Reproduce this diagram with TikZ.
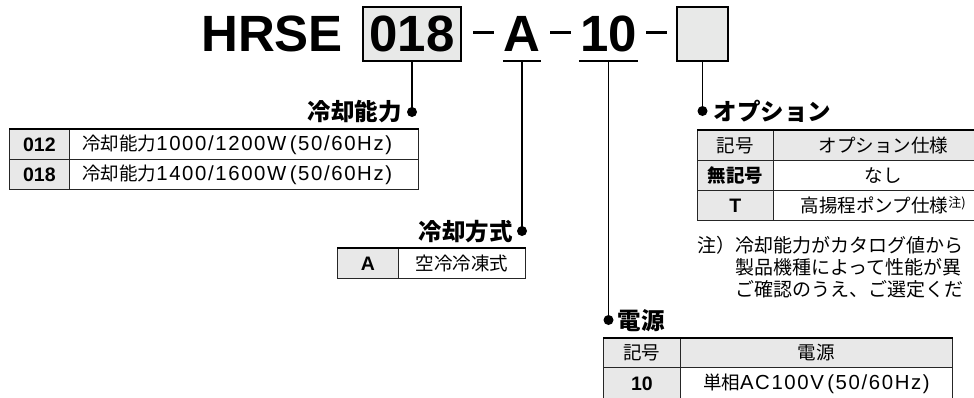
\documentclass[tikz,border=0pt]{standalone}
\usepackage{fontspec}
\setmainfont{Liberation Sans}
\newfontfamily\jpfont{Noto Sans CJK JP}
\newfontfamily\latfont[Scale=1.1,LetterSpace=8]{Liberation Sans}
\usepackage{tikz}
\usetikzlibrary{calc}
\definecolor{cellgray}{HTML}{E8E8E8}
\definecolor{boxgray}{HTML}{E8E9E8}
\newcommand{\lat}[1]{{\latfont #1}}
\newcommand{\chu}{\raisebox{5pt}{\fontsize{13}{13}\selectfont 注)}}

\begin{document}
\begin{tikzpicture}[x=1pt,y=-1pt,
	title/.style={font=\fontsize{51}{51}\selectfont\bfseries, inner sep=0pt, text height=37pt, text depth=3pt},
	codebox/.style={title, draw, line width=1.6pt, fill=boxgray, minimum height=54pt},
	codeul/.style={title, text depth=10pt},
	dashbar/.style={fill, inner sep=0pt, minimum width=21pt, minimum height=3pt},
	stem/.style={line width=1.5pt},
	caption/.style={font=\jpfont\fontsize{23.5}{23.5}\selectfont\bfseries, inner sep=0pt},
	cell/.style={draw=black!85, line width=0.7pt, inner sep=0pt, anchor=north west},
	keycell/.style={cell, fill=cellgray, font=\fontsize{19.5}{19.5}\selectfont\bfseries},
	jpkey/.style={cell, fill=cellgray, font=\jpfont\fontsize{18.5}{18.5}\selectfont\bfseries},
	headcell/.style={cell, fill=cellgray, font=\jpfont\fontsize{18.5}{18.5}\selectfont},
	txtcell/.style={cell, fill=white, font=\jpfont\fontsize{18.5}{18.5}\selectfont},
	topline/.style={line width=1.6pt},
	note/.style={font=\jpfont\fontsize{19}{19}\selectfont, inner sep=0pt, anchor=west}]
	
	\useasboundingbox (0,0) rectangle (974,397);
	\fill[white] (0,0) rectangle (974,397);
	\clip (0,0) rectangle (974,397);
	
	% model code
	\node[title, anchor=base west] (hrse) at (201,51) {HRSE};
	\node[codebox, anchor=base, minimum width=98pt] (c018) at (412,51) {018};
	\node[dashbar] (d1) at (483,32) {};
	\node[codeul, anchor=base, minimum width=38pt] (ca) at (522,51) {A};
	\node[dashbar] (d2) at (560,32) {};
	\node[codeul, anchor=base, minimum width=59pt] (c10) at (608.5,51) {10};
	\node[dashbar] (d3) at (656,32) {};
	\node[codebox, minimum width=51pt] (copt) at (702.5,34) {};
	\draw[stem] (ca.south west) -- (ca.south east);
	\draw[stem] (c10.south west) -- (c10.south east);
	
	% leader lines
	\coordinate (p1) at (412,112);
	\coordinate (p2) at (522,231);
	\coordinate (p3) at (608.5,320);
	\coordinate (p4) at (702.5,111);
	\draw[stem] (c018.south) -- (p1);
	\draw[stem] (ca.south) -- (p2);
	\draw[stem] (c10.south) -- (p3);
	\draw[stem] (copt.south) -- (p4);
	\foreach \p in {p1,p2,p3,p4} \fill (\p) circle[radius=5pt];
	
	\node[caption, anchor=east] (cap1) at ($(p1)+(-10,0)$) {冷却能力};
	\node[caption, anchor=east] (cap2) at ($(p2)+(-9,1)$) {冷却方式};
	\node[caption, anchor=west] (cap3) at ($(p3)+(9,1)$) {電源};
	\node[caption, anchor=west] (cap4) at ($(p4)+(11,0)$) {オプション};
	
	% 冷却能力
	\node[keycell, minimum width=60pt, minimum height=30pt] (k012) at (9,129) {012};
	\node[txtcell, minimum width=349pt, minimum height=30pt, text width=323pt, inner xsep=13pt, align=left] (t012) at (69,129) {冷却能力\lat{1000/1200W\,(50/60Hz)}};
	\node[keycell, minimum width=60pt, minimum height=30pt] (k018) at (9,159) {018};
	\node[txtcell, minimum width=349pt, minimum height=30pt, text width=323pt, inner xsep=13pt, align=left] (t018) at (69,159) {冷却能力\lat{1400/1600W\,(50/60Hz)}};
	\draw[topline] (k012.north west) -- (t012.north east);
	
	% 冷却方式
	\node[keycell, minimum width=61pt, minimum height=30pt] (ka) at (337,248) {A};
	\node[txtcell, minimum width=127pt, minimum height=30pt] (ta) at (398,248) {空冷冷凍式};
	\draw[topline] (ka.north west) -- (ta.north east);
	
	% オプション
	\node[headcell, minimum width=76pt, minimum height=30pt] (ho) at (697,130) {記号};
	\node[headcell, minimum width=220pt, minimum height=30pt] (hot) at (773,130) {オプション仕様};
	\node[jpkey, minimum width=76pt, minimum height=30pt] (knone) at (697,160) {無記号};
	\node[txtcell, minimum width=220pt, minimum height=30pt] (tnone) at (773,160) {なし};
	\node[keycell, minimum width=76pt, minimum height=30pt] (kt) at (697,190) {T};
	\node[txtcell, minimum width=220pt, minimum height=30pt] (tt) at (773,190) {高揚程ポンプ仕様\chu};
	\draw[topline] (ho.north west) -- (hot.north east);
	
	\node[note] (n1) at (697,245) {注）冷却能力がカタログ値から};
	\node[note] (n2) at (735,267) {製品機種によって性能が異};
	\node[note] (n3) at (735,289) {ご確認のうえ、ご選定くだ};
	
	% 電源
	\node[headcell, minimum width=77pt, minimum height=29pt] (hp) at (603,338) {記号};
	\node[headcell, minimum width=272pt, minimum height=29pt] (hpt) at (680,338) {電源};
	\node[keycell, minimum width=77pt, minimum height=32pt] (k10) at (603,367) {10};
	\node[txtcell, minimum width=272pt, minimum height=32pt] (t10) at (680,367) {単相\lat{AC100V\,(50/60Hz)}};
	\draw[topline] (hp.north west) -- (hpt.north east);
	
\end{tikzpicture}
\end{document}
